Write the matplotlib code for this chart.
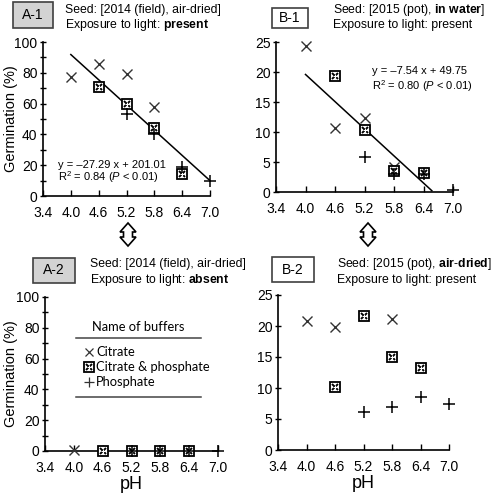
import matplotlib
matplotlib.use("Agg")
import matplotlib.pyplot as plt
from matplotlib.patches import Rectangle, Polygon
from matplotlib.lines import Line2D
from matplotlib.ticker import MultipleLocator
import numpy as np

plt.rcParams['font.family'] = ['Liberation Sans', 'DejaVu Sans']
plt.rcParams['mathtext.fontset'] = 'custom'
plt.rcParams['mathtext.rm'] = 'Liberation Sans'
plt.rcParams['mathtext.it'] = 'Liberation Sans:italic'
plt.rcParams['mathtext.bf'] = 'Liberation Sans:bold'

ph_ticks = [3.4, 4.0, 4.6, 5.2, 5.8, 6.4, 7.0]

# A-1
a1_cit_x = [4.0, 4.6, 5.2, 5.8]
a1_cit_y = [77, 86, 79, 58]
a1_cp_x = [4.6, 5.2, 5.8, 6.4]
a1_cp_y = [71, 60, 44, 14]
a1_pho_x = [5.2, 5.8, 6.4, 7.0]
a1_pho_y = [53, 40, 19, 9.5]
a1_fit = (-27.29, 201.01, 4.0, 7.0)

# B-1
b1_cit_x = [4.0, 4.6, 5.2, 5.8]
b1_cit_y = [24.3, 10.7, 12.4, 4.2]
b1_cp_x = [4.6, 5.2, 5.8, 6.4]
b1_cp_y = [19.4, 10.4, 3.5, 3.1]
b1_pho_x = [5.2, 5.8, 6.4, 7.0]
b1_pho_y = [5.9, 3.0, 3.0, 0.4]
b1_fit = (-7.54, 49.75, 4.0, 6.57)

# A-2
a2_cit_x = [4.0]
a2_cit_y = [0.5]
a2_cp_x = [4.6, 5.2, 5.8, 6.4]
a2_cp_y = [0, 0, 0, 0]
a2_pho_x = [5.2, 5.8, 6.4, 7.0]
a2_pho_y = [0, 0, 0, 0]

# B-2
b2_cit_x = [4.0, 4.6, 5.8]
b2_cit_y = [20.8, 19.9, 21.1]
b2_cp_x = [4.6, 5.2, 5.8, 6.4]
b2_cp_y = [10.1, 21.6, 15.0, 13.3]
b2_pho_x = [5.2, 5.8, 6.4, 7.0]
b2_pho_y = [6.1, 6.9, 8.6, 7.5]

W, H = 500, 495
fig = plt.figure(figsize=(W/100, H/100), dpi=100)

def fx(x): return x / W
def fy(y): return 1 - y / H

def ax_px(x0, y0, x1, y1):
    return fig.add_axes([x0/W, 1 - y1/H, (x1-x0)/W, (y1-y0)/H])

def cp_marker(ax, x, y):
    ax.plot(x, y, ls='none', marker='s', ms=7.5, mfc='white', mec='black', mew=1.3, clip_on=False, zorder=3)
    ax.plot(x, y, ls='none', marker='x', ms=5, mec='black', mew=1.4, clip_on=False, zorder=4)
    ax.plot(x, y, ls='none', marker='+', ms=3.5, mec='white', mew=0.8, clip_on=False, zorder=5)

def setup(ax, ymax, ystep, yminor, xlabel):
    ax.set_xlim(3.4, 7.0)
    ax.set_ylim(0, ymax)
    for s in ['top', 'right']:
        ax.spines[s].set_visible(False)
    for s in ['left', 'bottom']:
        ax.spines[s].set_linewidth(1.2)
    ax.set_xticks(ph_ticks)
    ax.set_xticklabels([f"{t:.1f}" for t in ph_ticks])
    ax.yaxis.set_major_locator(MultipleLocator(ystep))
    if yminor:
        ax.yaxis.set_minor_locator(MultipleLocator(yminor))
    ax.tick_params(axis='y', which='both', direction='inout', length=4, width=1, labelsize=10, pad=2)
    ax.tick_params(axis='x', which='both', direction='in', length=4, width=1, labelsize=10, pad=7)
    if xlabel:
        ax.set_xlabel("pH", fontsize=13, labelpad=1)

def plot_sets(ax, cx, cy, px, py, qx, qy):
    ax.plot(cx, cy, ls='none', marker='x', ms=6.5, mec='#333333', mew=1.0, clip_on=False, zorder=3)
    cp_marker(ax, px, py)
    ax.plot(qx, qy, ls='none', marker='+', ms=8.5, mec='black', mew=1.1, clip_on=False, zorder=6)

# A-1
ax1 = ax_px(43, 42, 210, 196)
setup(ax1, 100, 20, 10, False)
plot_sets(ax1, a1_cit_x, a1_cit_y, a1_cp_x, a1_cp_y, a1_pho_x, a1_pho_y)
xs = np.array([a1_fit[2], a1_fit[3]])
ax1.plot(xs, a1_fit[0]*xs + a1_fit[1], color='black', lw=1.1)
ax1.text(3.72, 20, "y = \u201327.29 x + 201.01", fontsize=8, va='center')
ax1.text(3.72, 12.5, r"R$^2$ = 0.84 ($P$ < 0.01)", fontsize=8, va='center')

# B-1
ax2 = ax_px(276, 42, 453, 192)
setup(ax2, 25, 5, None, False)
plot_sets(ax2, b1_cit_x, b1_cit_y, b1_cp_x, b1_cp_y, b1_pho_x, b1_pho_y)
xs = np.array([b1_fit[2], b1_fit[3]])
ax2.plot(xs, b1_fit[0]*xs + b1_fit[1], color='black', lw=1.1)
ax2.text(5.35, 20.1, "y = \u20137.54 x + 49.75", fontsize=8, va='center')
ax2.text(5.35, 17.7, r"R$^2$ = 0.80 ($P$ < 0.01)", fontsize=8, va='center')

# A-2
ax3 = ax_px(45, 297, 218, 451)
setup(ax3, 100, 20, 10, True)
plot_sets(ax3, a2_cit_x, a2_cit_y, a2_cp_x, a2_cp_y, a2_pho_x, a2_pho_y)

# B-2
ax4 = ax_px(278, 295, 449, 450)
setup(ax4, 25, 5, None, True)
plot_sets(ax4, b2_cit_x, b2_cit_y, b2_cp_x, b2_cp_y, b2_pho_x, b2_pho_y)

# y labels
fig.text(fx(11), fy(119), "Germination (%)", rotation=90, fontsize=10.5, ha='center', va='center')
fig.text(fx(11), fy(374), "Germination (%)", rotation=90, fontsize=10.5, ha='center', va='center')

# Title boxes
def label_box(x0, y0, x1, y1, text, gray):
    fig.patches.append(Rectangle((fx(x0), fy(y1)), fx(x1) - fx(x0), fy(y0) - fy(y1),
                                 transform=fig.transFigure, facecolor='#d3d3d3' if gray else 'white',
                                 edgecolor='#404040', lw=1.2))
    fig.text(fx((x0 + x1) / 2), fy((y0 + y1) / 2), text, ha='center', va='center', fontsize=10)

label_box(13, 2, 53, 28, "A-1", True)
label_box(272, 8, 308, 28, "B-1", False)
label_box(33, 258, 75, 283, "A-2", True)
label_box(272, 257, 314, 282, "B-2", False)

tfs = 8.8
fig.text(fx(65), fy(10), "Seed: [2014 (field), air-dried]", fontsize=tfs, va='center')
fig.text(fx(65), fy(25), r"Exposure to light: $\mathbf{present}$", fontsize=tfs, va='center')
fig.text(fx(333), fy(10), r"Seed: [2015 (pot), $\mathbf{in\ water}$]", fontsize=tfs, va='center')
fig.text(fx(333), fy(25), "Exposure to light: present", fontsize=tfs, va='center')
fig.text(fx(90), fy(264), "Seed: [2014 (field), air-dried]", fontsize=tfs, va='center')
fig.text(fx(90), fy(280), r"Exposure to light: $\mathbf{absent}$", fontsize=tfs, va='center')
fig.text(fx(337), fy(264), r"Seed: [2015 (pot), $\mathbf{air}$-$\mathbf{dried}$]", fontsize=tfs, va='center')
fig.text(fx(337), fy(280), "Exposure to light: present", fontsize=tfs, va='center')

# Double arrows
def double_arrow(cx, t):
    pts = [(cx, t), (cx + 8, t + 9), (cx + 4.5, t + 9), (cx + 4.5, t + 14), (cx + 8, t + 14),
           (cx, t + 23), (cx - 8, t + 14), (cx - 4.5, t + 14), (cx - 4.5, t + 9), (cx - 8, t + 9)]
    fig.patches.append(Polygon([(fx(x), fy(y)) for x, y in pts], closed=True, transform=fig.transFigure,
                               facecolor='white', edgecolor='black', lw=1.2))

double_arrow(128, 223)
double_arrow(368, 223)

# Legend in A-2
lfam = ['Lato', 'DejaVu Sans']
lfs = 9.3
fig.text(fx(138), fy(327), "Name of buffers", fontsize=lfs, ha='center', va='center', family=lfam)
fig.add_artist(Line2D([fx(76), fx(201)], [fy(338), fy(338)], color='#444444', lw=1.1))
fig.add_artist(Line2D([fx(76), fx(201)], [fy(397), fy(397)], color='#444444', lw=1.1))
fig.add_artist(Line2D([fx(89)], [fy(352)], ls='none', marker='x', ms=5.5, mec='#333333', mew=0.9))
fig.add_artist(Line2D([fx(89)], [fy(367)], ls='none', marker='s', ms=7.5, mfc='white', mec='black', mew=1.3))
fig.add_artist(Line2D([fx(89)], [fy(367)], ls='none', marker='x', ms=5, mec='black', mew=1.4))
fig.add_artist(Line2D([fx(89)], [fy(367)], ls='none', marker='+', ms=3.5, mec='white', mew=0.8))
fig.add_artist(Line2D([fx(89)], [fy(382)], ls='none', marker='+', ms=6.5, mec='#333333', mew=0.9))
fig.text(fx(96), fy(352), "Citrate", fontsize=lfs, va='center', family=lfam)
fig.text(fx(96), fy(367), "Citrate & phosphate", fontsize=lfs, va='center', family=lfam)
fig.text(fx(96), fy(382), "Phosphate", fontsize=lfs, va='center', family=lfam)

fig.savefig("out.png", dpi=100)
